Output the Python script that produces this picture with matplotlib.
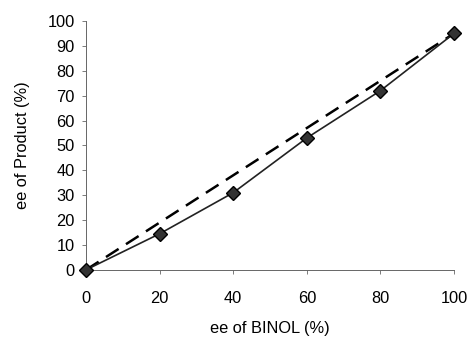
import numpy as np
import matplotlib
matplotlib.use("Agg")
from matplotlib import pyplot as plt

# ee of BINOL vs ee of product
binol_ee = [0, 20, 40, 60, 80, 100]
product_ee = [0, 14.5, 31, 53, 72, 95]
ideal_x = [0, 100]
ideal_y = [0, 95]

plt.rcParams['font.family'] = ['Liberation Sans', 'DejaVu Sans']

fig = plt.figure(figsize=(4.7, 3.39), dpi=100)
ax = fig.add_axes([0.183, 0.204, 0.783, 0.734])

ax.plot(ideal_x, ideal_y, color='black', linestyle=(0, (6, 3.5)), linewidth=1.8, clip_on=False)
ax.plot(binol_ee, product_ee, color='#222222', linewidth=1.2, marker='D', markersize=7.5,
        markerfacecolor='#333333', markeredgecolor='black', clip_on=False, zorder=3)

ax.set_xlim(0, 100)
ax.set_ylim(0, 100)
ax.set_xticks(np.arange(0, 101, 20))
ax.set_yticks(np.arange(0, 101, 10))
ax.tick_params(axis='both', labelsize=11.8, length=3, width=0.6, color='#666666', direction='out')
ax.tick_params(axis='x', pad=12)
ax.tick_params(axis='y', pad=5)

for side in ['top', 'right']:
    ax.spines[side].set_visible(False)
for side in ['left', 'bottom']:
    ax.spines[side].set_color('#666666')
    ax.spines[side].set_linewidth(0.7)

ax.set_xlabel('ee of BINOL (%)', fontsize=11.8, labelpad=11)
ax.set_ylabel('ee of Product (%)', fontsize=11.8, labelpad=13)

plt.savefig('out.png', dpi=100)
